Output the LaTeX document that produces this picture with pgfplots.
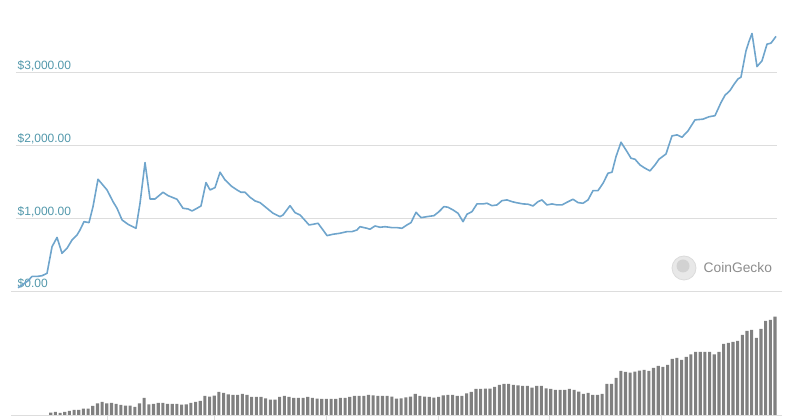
\documentclass[border=0pt]{standalone}
\usepackage{pgfplots}
\pgfplotsset{compat=1.18}
\usepackage{pgfplotstable}
\usepackage{fontspec}
\setmainfont{Liberation Sans}
\definecolor{pricecol}{HTML}{6FA5CC}
\definecolor{labelcol}{HTML}{5298AB}
\definecolor{gridcol}{HTML}{DDDDDD}
\definecolor{barcol}{HTML}{808080}
\definecolor{wmcol}{HTML}{8C8C8C}

\pgfplotstableread{
x price
0 45
1.07 90
2.14 140
3.00 200
4.07 200
5.14 210
6.21 243
7.28 609
8.35 736
9.42 518
10.49 587
11.56 701
12.63 770
13.27 839
14.12 953
15.19 940
16.05 1160
17.12 1536
19.05 1389
20.33 1228
21.19 1137
22.26 977
23.54 917
25.25 862
26.11 1206
27.18 1765
28.25 1265
29.32 1265
31.03 1357
32.10 1311
34.02 1261
35.31 1137
36.38 1128
37.24 1100
38.30 1137
39.16 1169
40.23 1490
41.09 1389
42.16 1421
43.23 1633
44.30 1527
45.79 1435
46.86 1389
47.72 1357
48.58 1357
49.65 1289
50.72 1238
51.79 1215
53.28 1137
54.57 1069
56.07 1022
56.71 1045
58.21 1173
59.28 1077
60.35 1045
61.20 986
62.27 908
63.13 917
64.20 931
65.27 839
66.13 761
67.41 780
68.91 794
70.40 816
71.47 816
72.54 839
73.18 884
74.68 862
75.32 849
76.40 894
77.47 876
78.54 884
80.04 871
81.11 871
82.17 862
83.24 908
84.10 940
85.17 1082
86.24 1008
87.52 1022
89.02 1036
90.09 1091
91.16 1160
92.02 1151
93.09 1114
94.16 1069
95.23 953
96.08 1055
97.15 1091
98.22 1197
99.51 1197
100.36 1206
101.43 1173
102.50 1183
103.57 1242
104.64 1252
105.71 1228
106.57 1215
108.06 1197
109.14 1193
110.21 1169
111.28 1228
112.13 1252
113.20 1183
114.27 1197
115.34 1183
116.41 1183
117.48 1220
118.77 1261
119.84 1215
120.91 1206
121.98 1252
123.05 1380
124.12 1380
125.19 1481
126.26 1619
127.11 1633
127.97 1847
129.04 2045
130.32 1916
131.18 1825
132.03 1811
133.10 1733
134.17 1688
135.24 1651
136.31 1733
137.17 1811
138.67 1884
139.95 2132
141.02 2146
142.09 2114
143.37 2200
144.87 2352
146.58 2362
147.87 2395
149.15 2410
150.43 2590
151.29 2690
152.36 2755
153.21 2840
154.07 2915
154.71 2939
155.78 3300
156.42 3429
157.07 3540
158.14 3085
159.21 3164
160.28 3393
161.13 3407
162.21 3500
}\pricedata

\pgfplotstableread{
x vol
7 2.3
8 3
9 2
10 3
11 4
12 5
13 5
14 6.3
15 6.3
16 9
17 11.7
18 13
19 11.7
20 12
21 11
22 10
23 9.3
24 9.3
25 8
26 11.7
27 17
28 10.7
29 11
30 12
31 12
32 11
33 11
34 11
35 10.3
36 10.7
37 12
38 13
39 14
40 19
41 18.3
42 19.3
43 23
44 22
45 20.7
46 20
47 20
48 21
49 20
50 18
51 18
52 18
53 16.7
54 15.3
55 15.3
56 18
57 19
58 18
59 17
60 17
61 17
62 18
63 17
64 16.3
65 16
66 16
67 16
68 16
69 17
70 17
71 18
72 19
73 19
74 19
75 20
76 19.7
77 19
78 19
79 19
80 18.3
81 16.3
82 16.7
83 17.7
84 18.3
85 21
86 19
87 18.3
88 18
89 17.3
90 18
91 19.7
92 20
93 20
94 19
95 19
96 21.7
97 23
98 26
99 26
100 26.3
101 26.3
102 28
103 30
104 31
105 31
106 30
107 29.7
108 29
109 29
110 27.3
111 29
112 29
113 26.7
114 26
115 25
116 25
117 25
118 26
119 25
120 23.3
121 21
122 22
123 20
124 20
125 21
126 31
127 31
128 37
129 44
130 43
131 42.3
132 43.3
133 44.3
134 45
135 44
136 47
137 49
138 48
139 50
140 56
141 57
142 55
143 58
144 60.7
145 63
146 63
147 63
148 63
149 60.7
150 63
151 71
152 72
153 73
154 74
155 80
156 84
157 85
158 77
159 86
160 94
161 95
162 98.3
}\voldata

\begin{document}
\begin{tikzpicture}[x=1pt,y=1pt]
\useasboundingbox (0,0) rectangle (804,420);
% price chart
\begin{axis}[
  at={(16pt,129pt)}, anchor=south west,
  scale only axis, width=761pt, height=291pt,
  xmin=-0.43, xmax=162.42, ymin=0, ymax=4000,
  axis line style={draw=none},
  xtick=\empty,
  ytick={0,1000,2000,3000},
  yticklabels={{\$0.00},{\$1,000.00},{\$2,000.00},{\$3,000.00}},
  yticklabel style={anchor=base west, inner sep=0pt, xshift=1.5pt, yshift=3pt,
    font=\fontsize{12}{13}\selectfont, text=labelcol},
  major tick length=0pt,
  ymajorgrids, grid style={gridcol, line width=0.8pt},
  clip=false,
]
\addplot[pricecol, line width=1.6pt, line join=round] table[x=x,y=price]{\pricedata};
\end{axis}
% watermark
\node[circle, minimum size=24pt, inner sep=0pt, fill=gray!18, draw=gray!28, line width=0.8pt] at (684,152) {};
\node[circle, minimum size=13pt, inner sep=0pt, fill=gray!35] at (683,154) {};
\node[anchor=west, inner sep=0pt, text=wmcol, font=\fontsize{13.8}{15}\selectfont] at (703.5,152) {CoinGecko};
% volume chart
\begin{axis}[
  at={(16pt,5pt)}, anchor=south west,
  scale only axis, width=761pt, height=124pt,
  xmin=-0.43, xmax=162.42, ymin=0, ymax=124,
  axis line style={draw=none},
  xtick={19.05,41.94,65.91,89.88,113.63,137.6},
  xticklabels={},
  xtick pos=bottom, tick align=outside,
  major tick length=5pt,
  tick style={gridcol, line width=0.8pt},
  ytick={0,124}, yticklabels={},
  ymajorgrids, grid style={gridcol, line width=0.8pt},
]
\addplot[ybar, bar width=3.1pt, fill=barcol, draw=none] table[x=x,y=vol]{\voldata};
\end{axis}
\end{tikzpicture}
\end{document}
